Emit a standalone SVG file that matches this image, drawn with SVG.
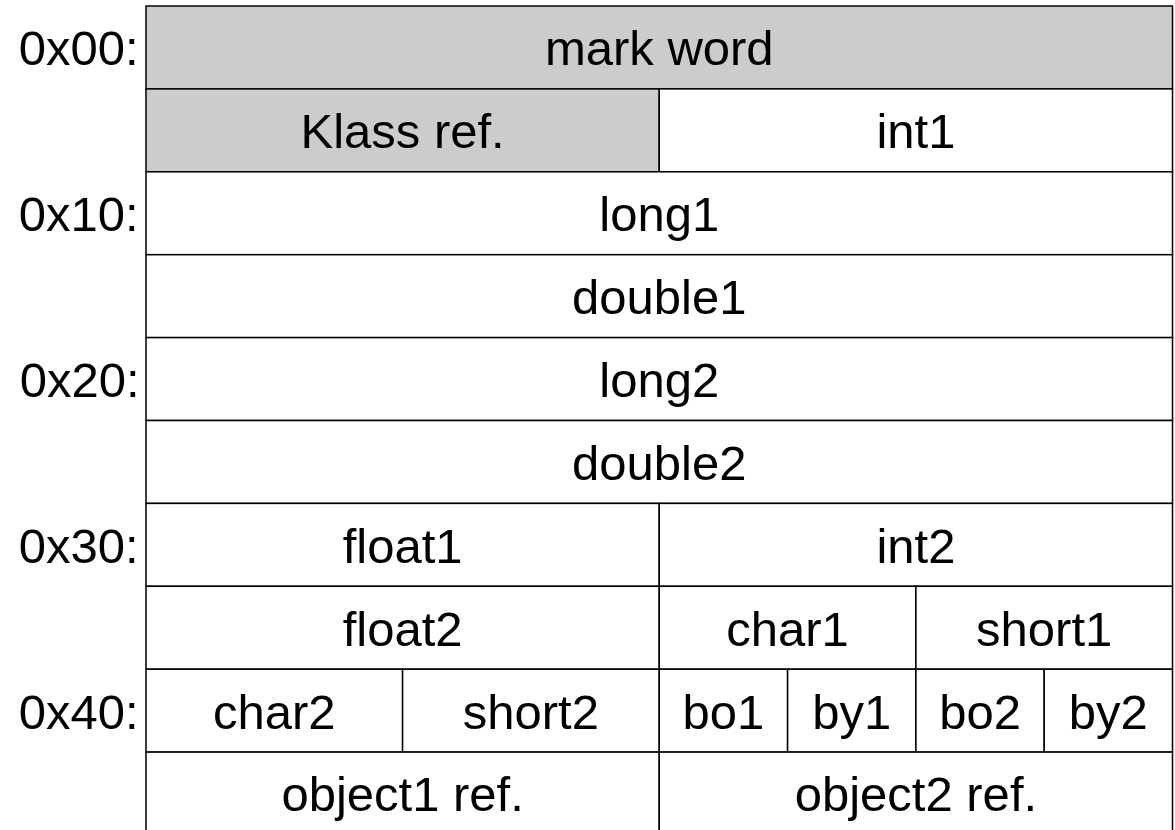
<svg xmlns="http://www.w3.org/2000/svg" width="1175" height="830" viewBox="0 0 1175 830">
<style>
  .c { fill: #ffffff; stroke: #000000; stroke-width: 1.5; }
  .g { fill: #cccccc; stroke: #000000; stroke-width: 1.5; }
  .t { font-family: "Liberation Sans", Arial, sans-serif; font-size: 49px; fill: #000000; text-anchor: middle; }
  .a { font-family: "Liberation Sans", Arial, sans-serif; font-size: 49px; fill: #000000; text-anchor: end; }
</style>
<rect x="0" y="0" width="1175" height="830" fill="#ffffff"/>
<g id="addresses">
  <text class="a" x="138.5" y="65.4">0x00:</text>
  <text class="a" x="138.5" y="231.2">0x10:</text>
  <text class="a" x="139.5" y="397">0x20:</text>
  <text class="a" x="138.5" y="562.8">0x30:</text>
  <text class="a" x="138.5" y="728.6">0x40:</text>
</g>
<g id="mark-word"><rect class="g" x="146" y="6" width="1026.5" height="82.9"/><text class="t" x="659.25" y="65.3">mark word</text></g>
<g id="klass-ref"><rect class="g" x="146" y="88.9" width="513.25" height="82.9"/><text class="t" x="402.6" y="148.2">Klass ref.</text></g>
<g id="int1"><rect class="c" x="659.25" y="88.9" width="513.25" height="82.9"/><text class="t" x="915.9" y="148.2">int1</text></g>
<g id="long1"><rect class="c" x="146" y="171.8" width="1026.5" height="82.9"/><text class="t" x="659.25" y="231.1">long1</text></g>
<g id="double1"><rect class="c" x="146" y="254.7" width="1026.5" height="82.9"/><text class="t" x="659.25" y="314">double1</text></g>
<g id="long2"><rect class="c" x="146" y="337.6" width="1026.5" height="82.9"/><text class="t" x="659.25" y="396.9">long2</text></g>
<g id="double2"><rect class="c" x="146" y="420.5" width="1026.5" height="82.9"/><text class="t" x="659.25" y="479.8">double2</text></g>
<g id="float1"><rect class="c" x="146" y="503.4" width="513.25" height="82.9"/><text class="t" x="402.6" y="562.7">float1</text></g>
<g id="int2"><rect class="c" x="659.25" y="503.4" width="513.25" height="82.9"/><text class="t" x="915.9" y="562.7">int2</text></g>
<g id="float2"><rect class="c" x="146" y="586.3" width="513.25" height="82.9"/><text class="t" x="402.6" y="645.6">float2</text></g>
<g id="char1"><rect class="c" x="659.25" y="586.3" width="256.65" height="82.9"/><text class="t" x="787.6" y="645.6">char1</text></g>
<g id="short1"><rect class="c" x="915.9" y="586.3" width="256.6" height="82.9"/><text class="t" x="1044.2" y="645.6">short1</text></g>
<g id="char2"><rect class="c" x="146" y="669.2" width="256.6" height="82.9"/><text class="t" x="274.3" y="728.5">char2</text></g>
<g id="short2"><rect class="c" x="402.6" y="669.2" width="256.65" height="82.9"/><text class="t" x="530.9" y="728.5">short2</text></g>
<g id="bo1"><rect class="c" x="659.25" y="669.2" width="128.35" height="82.9"/><text class="t" x="723.4" y="728.5">bo1</text></g>
<g id="by1"><rect class="c" x="787.6" y="669.2" width="128.3" height="82.9"/><text class="t" x="851.75" y="728.5">by1</text></g>
<g id="bo2"><rect class="c" x="915.9" y="669.2" width="128.3" height="82.9"/><text class="t" x="980.05" y="728.5">bo2</text></g>
<g id="by2"><rect class="c" x="1044.2" y="669.2" width="128.3" height="82.9"/><text class="t" x="1108.35" y="728.5">by2</text></g>
<g id="object1-ref"><rect class="c" x="146" y="752.1" width="513.25" height="82.9"/><text class="t" x="402.6" y="811.4">object1 ref.</text></g>
<g id="object2-ref"><rect class="c" x="659.25" y="752.1" width="513.25" height="82.9"/><text class="t" x="915.9" y="811.4">object2 ref.</text></g>
<g id="connectors"></g>
</svg>
